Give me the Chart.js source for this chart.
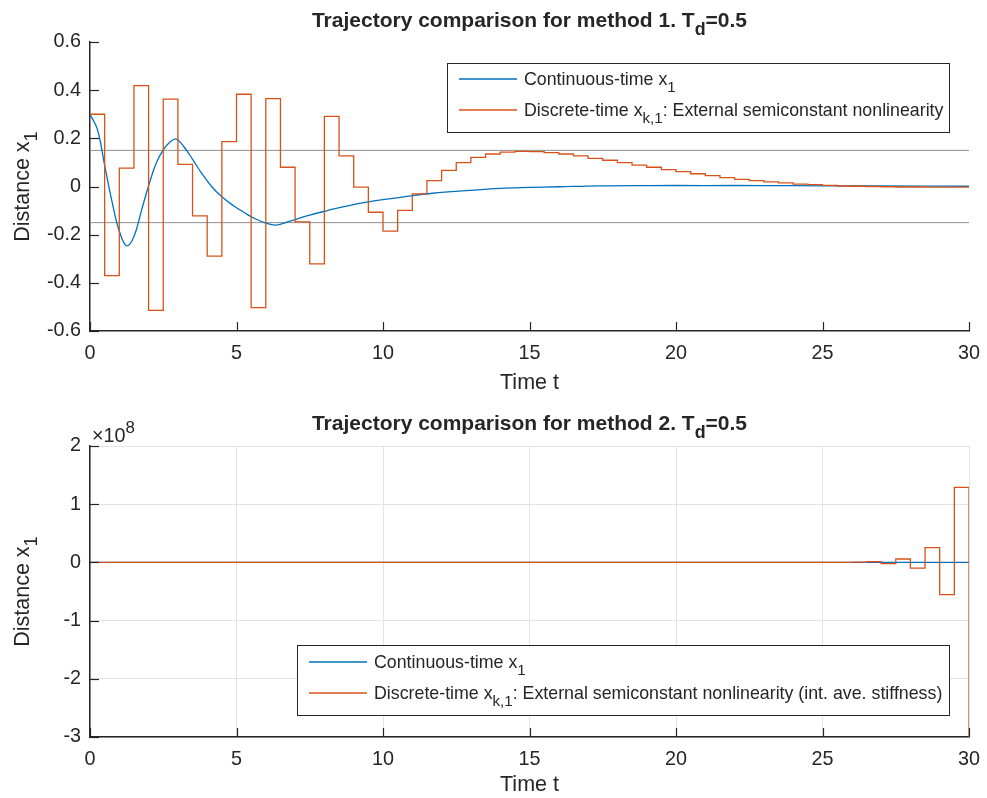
<!DOCTYPE html>
<html>
<head>
<meta charset="utf-8">
<script src="https://cdn.jsdelivr.net/npm/chart.js@4.4.0/dist/chart.umd.min.js"></script>
<style>
  html, body { margin: 0; padding: 0; background: #fff; }
  #wrap { position: relative; width: 987px; height: 798px; }
  canvas { position: absolute; left: 0; }
</style>
</head>
<body>
<div id="wrap">
  <canvas id="grafico1" width="987" height="399" style="top:0px"></canvas>
  <canvas id="grafico2" width="987" height="399" style="top:399px"></canvas>
</div>
<script>
// DADOS
const tempoDiscreto = [0, 0.5, 1, 1.5, 2, 2.5, 3, 3.5, 4, 4.5, 5, 5.5, 6, 6.5, 7, 7.5, 8, 8.5, 9, 9.5,
  10, 10.5, 11, 11.5, 12, 12.5, 13, 13.5, 14, 14.5, 15, 15.5, 16, 16.5, 17, 17.5, 18, 18.5, 19, 19.5,
  20, 20.5, 21, 21.5, 22, 22.5, 23, 23.5, 24, 24.5, 25, 25.5, 26, 26.5, 27, 27.5, 28, 28.5, 29, 29.5, 30]

// method 1, stairs
const discreto1 = [0.300, -0.370, 0.076, 0.419, -0.514, 0.363, 0.092, -0.122, -0.289, 0.186,
  0.383, -0.503, 0.365, 0.080, -0.147, -0.321, 0.291, 0.127, -0.003, -0.107,
  -0.185, -0.099, -0.031, 0.024, 0.067, 0.099, 0.121, 0.135, 0.143, 0.146,
  0.145, 0.141, 0.135, 0.127, 0.117, 0.109, 0.099, 0.089, 0.080, 0.070,
  0.062, 0.053, 0.045, 0.037, 0.030, 0.024, 0.019, 0.015, 0.010, 0.008,
  0.005, 0.002, 0.001, 0.000, -0.001, -0.002, -0.002, -0.003, -0.003, -0.003, -0.003]

// method 2, stairs (blows up at the end)
const discreto2 = [0, 0, 0, 0, 0, 0, 0, 0, 0, 0,
  0, 0, 0, 0, 0, 0, 0, 0, 0, 0,
  0, 0, 0, 0, 0, 0, 0, 0, 0, 0,
  0, 0, 0, 0, 0, 0, 0, 0, 0, 0,
  0, 0, 0, 0, 0, 0, 0, 0, 0, 0,
  0, 0, 0.004e8, 0.012e8, -0.022e8, 0.058e8, -0.10e8, 0.253e8, -0.555e8, 1.29e8, -3.0e8]

const tempoContinuo = [0, 0.25, 0.5, 0.75, 1.0, 1.25, 1.5, 1.75, 2.0, 2.25, 2.5, 2.75, 2.95, 3.2, 3.5, 3.8,
  4.15, 4.5, 4.9, 5.25, 5.6, 6.0, 6.35, 6.8, 7.4, 8.1, 8.8, 9.7, 10.6, 11.7, 13.0, 14.0, 15.0, 16.0,
  17.4, 19.0, 21.0, 23.0, 25.0, 27.0, 30.0]
const continuo = [0.300, 0.238, 0.088, -0.062, -0.185, -0.246, -0.208, -0.102, 0.003, 0.094, 0.152, 0.187, 0.197, 0.166, 0.113, 0.057,
  0.000, -0.043, -0.080, -0.107, -0.132, -0.152, -0.160, -0.145, -0.122, -0.100, -0.080, -0.060, -0.045, -0.028, -0.016, -0.008, -0.004, -0.001,
  0.003, 0.004, 0.004, 0.004, 0.003, 0.002, 0.001]

const faixa = [0.15, -0.15]

const ticksX = [0, 5, 10, 15, 20, 25, 30]
const ticksY1 = [-0.6, -0.4, -0.2, 0, 0.2, 0.4, 0.6]
const ticksY2 = [-3e8, -2e8, -1e8, 0, 1e8, 2e8]

const AZUL = '#0072BD'
const LARANJA = '#D95319'
const INK = '#262626'
const FONTE = '"Liberation Sans", Arial, Helvetica, sans-serif'

function pares(xs, ys) {
  return xs.map((x, i) => ({ x: x, y: ys[i] }))
}

// texto com sub/sobrescrito: partes = [[texto, tipo]]
function escreve(ctx, partes, x, y, tam, alinha, negrito) {
  let peso = negrito ? 'bold ' : ''
  let larguras = partes.map(([t, tipo]) => {
    ctx.font = peso + (tipo ? tam * 0.85 : tam) + 'px ' + FONTE
    return ctx.measureText(t).width
  })
  let total = larguras.reduce((a, b) => a + b, 0)
  let cx = alinha === 'center' ? x - total / 2 : x
  ctx.textAlign = 'left'
  ctx.textBaseline = 'alphabetic'
  ctx.fillStyle = INK
  partes.forEach(([t, tipo], i) => {
    ctx.font = peso + (tipo ? tam * 0.85 : tam) + 'px ' + FONTE
    let dy = tipo === 'sub' ? tam * 0.38 : (tipo === 'sup' ? -tam * 0.45 : 0)
    ctx.fillText(t, cx, y + dy)
    cx += larguras[i]
  })
}

const enfeites = {
  id: 'enfeites',
  afterDraw(chart, args, opts) {
    const { ctx, chartArea: a, scales: { x, y } } = chart
    ctx.save()

    // ticks para dentro
    ctx.strokeStyle = INK
    ctx.lineWidth = 1.2
    x.ticks.forEach(t => {
      let px = Math.round(x.getPixelForValue(t.value)) + 0.5
      ctx.beginPath(); ctx.moveTo(px, a.bottom); ctx.lineTo(px, a.bottom - 9); ctx.stroke()
    })
    y.ticks.forEach(t => {
      let py = Math.round(y.getPixelForValue(t.value)) + 0.5
      ctx.beginPath(); ctx.moveTo(a.left, py); ctx.lineTo(a.left + 9, py); ctx.stroke()
    })

    // titulo e eixos
    escreve(ctx, opts.titulo, (a.left + a.right) / 2, opts.tituloY, 21, 'center', true)
    escreve(ctx, [['Time t', '']], (a.left + a.right) / 2, opts.eixoXY, 21.5, 'center')
    ctx.save()
    ctx.translate(29, (a.top + a.bottom) / 2)
    ctx.rotate(-Math.PI / 2)
    escreve(ctx, [['Distance x', ''], ['1', 'sub']], 0, 0, 21.5, 'center')
    ctx.restore()

    if (opts.expoente) {
      escreve(ctx, [['\u00d710', ''], ['8', 'sup']], a.left + 2, a.top - 4, 19.8, 'left')
    }

    // legenda
    let L = opts.legenda
    ctx.fillStyle = '#fff'
    ctx.fillRect(L.x, L.y, L.w, L.h)
    ctx.strokeStyle = INK
    ctx.lineWidth = 1
    ctx.strokeRect(L.x + 0.5, L.y + 0.5, L.w, L.h)
    L.itens.forEach((item, i) => {
      let ly = L.y + L.linhas[i]
      ctx.strokeStyle = item.cor
      ctx.lineWidth = 1.3
      ctx.beginPath(); ctx.moveTo(L.x + 12, ly); ctx.lineTo(L.x + 70, ly); ctx.stroke()
      escreve(ctx, item.texto, L.x + 77, ly + 6.4, 17.8, 'left')
    })
    ctx.restore()
  }
}

function criaGrafico(id, datasets, yMin, yMax, formato, grade, enfeite) {
  const tickFont = { family: FONTE, size: 19.8 }
  return new Chart(document.getElementById(id), {
    type: 'line',
    data: { datasets: datasets },
    options: {
      animation: false,
      responsive: false,
      layout: { padding: { left: 0, right: 18, top: enfeite.topo, bottom: 0 } },
      plugins: {
        legend: { display: false },
        title: { display: false },
        tooltip: { enabled: false },
        enfeites: enfeite
      },
      elements: { point: { radius: 0 } },
      scales: {
        x: {
          type: 'linear', min: 0, max: 30,
          afterBuildTicks: s => { s.ticks = ticksX.map(v => ({ value: v })) },
          ticks: { font: tickFont, color: INK, padding: 11, maxRotation: 0 },
          grid: { display: grade, drawTicks: false, color: '#e3e3e3', lineWidth: 1 },
          border: { display: true, color: INK, width: 1.5 },
          afterFit: s => { s.height = 399 - enfeite.baixo; s.paddingLeft = 0; s.paddingRight = 0 }
        },
        y: {
          type: 'linear', min: yMin, max: yMax,
          afterBuildTicks: s => { s.ticks = (grade ? ticksY2 : ticksY1).map(v => ({ value: v })) },
          ticks: { font: tickFont, color: INK, padding: 9, callback: formato },
          grid: { display: grade, drawTicks: false, color: '#e3e3e3', lineWidth: 1 },
          border: { display: true, color: INK, width: 1.5 },
          afterFit: s => { s.width = 90; s.paddingTop = 0; s.paddingBottom = 0 }
        }
      }
    },
    plugins: [enfeites]
  })
}

function linhaEscada(dados, cor) {
  return { data: dados, borderColor: cor, borderWidth: 1.3, stepped: 'before', fill: false }
}
function linhaSuave(dados, cor) {
  return { data: dados, borderColor: cor, borderWidth: 1.3, tension: 0.4, fill: false }
}

// GRAFICO METODO 1
criaGrafico('grafico1', [
  linhaEscada(pares(tempoDiscreto, discreto1), LARANJA),
  linhaSuave(pares(tempoContinuo, continuo), AZUL),
  { data: [{ x: 0, y: faixa[0] }, { x: 30, y: faixa[0] }], borderColor: '#8f8f8f', borderWidth: 1 },
  { data: [{ x: 0, y: faixa[1] }, { x: 30, y: faixa[1] }], borderColor: '#8f8f8f', borderWidth: 1 }
], -0.6, 0.6, v => String(Math.round(v * 10) / 10), false, {
  topo: 42, baixo: 331,
  titulo: [['Trajectory comparison for method 1. T', ''], ['d', 'sub'], ['=0.5', '']],
  tituloY: 27, eixoXY: 389,
  legenda: {
    x: 447, y: 63, w: 502, h: 69, linhas: [16, 47],
    itens: [
      { cor: AZUL, texto: [['Continuous-time x', ''], ['1', 'sub']] },
      { cor: LARANJA, texto: [['Discrete-time x', ''], ['k,1', 'sub'], [': External semiconstant nonlinearity', '']] }
    ]
  }
})

// GRAFICO METODO 2
criaGrafico('grafico2', [
  linhaEscada(pares(tempoDiscreto, discreto2), LARANJA),
  linhaSuave(pares(tempoContinuo, continuo), AZUL)
], -3e8, 2e8, v => String(Math.round(v / 1e8)), true, {
  topo: 47, baixo: 338,
  titulo: [['Trajectory comparison for method 2. T', ''], ['d', 'sub'], ['=0.5', '']],
  tituloY: 31, eixoXY: 392, expoente: true,
  legenda: {
    x: 297, y: 246, w: 652, h: 70, linhas: [17, 48],
    itens: [
      { cor: AZUL, texto: [['Continuous-time x', ''], ['1', 'sub']] },
      { cor: LARANJA, texto: [['Discrete-time x', ''], ['k,1', 'sub'], [': External semiconstant nonlinearity (int. ave. stiffness)', '']] }
    ]
  }
})
</script>
</body>
</html>
